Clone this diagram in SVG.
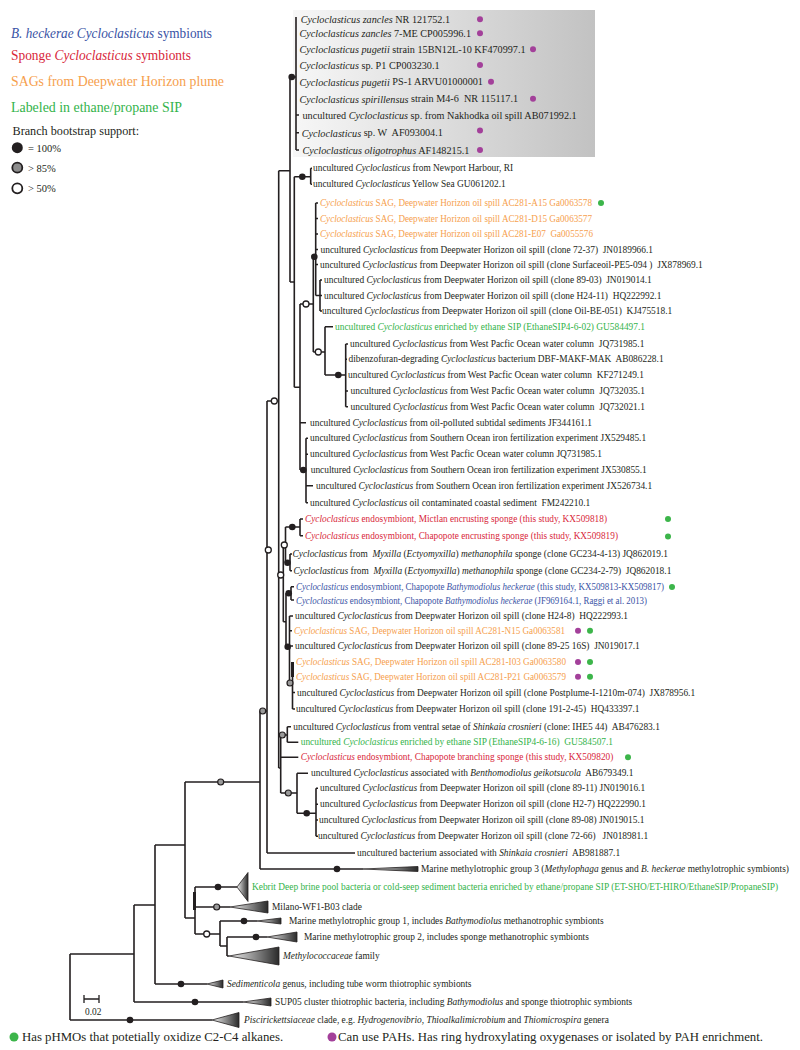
<svg xmlns="http://www.w3.org/2000/svg" width="800" height="1050" viewBox="0 0 800 1050">
<defs>
<linearGradient id="boxg" x1="0" y1="0" x2="1" y2="0"><stop offset="0" stop-color="#f7f7f7"/><stop offset="1" stop-color="#c2c2c2"/></linearGradient>
<linearGradient id="trig" x1="0" y1="0" x2="1" y2="0"><stop offset="0" stop-color="#f2f2f2"/><stop offset="1" stop-color="#2a2a2a"/></linearGradient>
<style>
.t{font-family:"Liberation Serif","Times New Roman",serif;font-size:9.4px;fill:#231f20;dominant-baseline:central;white-space:pre}
.tg{font-size:10.2px}
.i{font-style:italic}
.or{fill:#f6a04d}.bl{fill:#3953a5}.rd{fill:#d8263a}.gr{fill:#33b34a}
.br{stroke:#231f20;stroke-width:1.6;fill:none}
.nb{fill:#231f20}
.ng{fill:#9a9a9a;stroke:#231f20;stroke-width:1.2}
.nw{fill:#fff;stroke:#231f20;stroke-width:1.3}
.pd{fill:#a3409a}.gd{fill:#3cb54a}
.tri{fill:url(#trig);stroke:#231f20;stroke-width:0.8}
.lg{font-family:"Liberation Serif","Times New Roman",serif;font-size:13.6px;dominant-baseline:central}
</style>
</defs>
<rect width="800" height="1050" fill="#fff"/>

<g id="legend">
<text class="lg bl" x="11" y="33" textLength="201" lengthAdjust="spacingAndGlyphs"><tspan class="i">B. heckerae Cycloclasticus</tspan> symbionts</text>
<text class="lg rd" x="11" y="55" textLength="180" lengthAdjust="spacingAndGlyphs">Sponge <tspan class="i">Cycloclasticus</tspan> symbionts</text>
<text class="lg or" x="11" y="81" textLength="213" lengthAdjust="spacingAndGlyphs">SAGs from Deepwater Horizon plume</text>
<text class="lg gr" x="11" y="107" textLength="171" lengthAdjust="spacingAndGlyphs">Labeled in ethane/propane SIP</text>
<text class="t" x="12.5" y="131" style="font-size:12.2px">Branch bootstrap support:</text>
<circle cx="17.3" cy="147.7" r="5.5" fill="#231f20"/>
<circle cx="17.3" cy="167.7" r="5" fill="#8c8c8c" stroke="#231f20" stroke-width="1.8"/>
<circle cx="17.3" cy="188.3" r="5" fill="#fff" stroke="#231f20" stroke-width="1.8"/>
<text class="t" x="28" y="148" style="font-size:10.5px">= 100%</text>
<text class="t" x="28" y="168" style="font-size:10.5px">&gt; 85%</text>
<text class="t" x="28" y="188.5" style="font-size:10.5px">&gt; 50%</text>
</g>

<rect id="highlight-box" x="293" y="10" width="302" height="147" fill="url(#boxg)"/>

<g id="connectors" class="br">
<path d="M70,954V1020M70,954H134M70,1020H212M134,905V1002M134,1002H243M134,905H155M155,845V984M155,984H207M155,845H185M185,782V918M185,918H195M195,887V934M195,887H237M195,907H230M195,934H220M220,921V946M220,921H257M220,946H227M227,937V956M227,937H267M227,956H229M185,782H260M260,711V869M260,869H363M260,711H267M267,401V853M267,853H355M267,401H278.7M278.7,170.7V768M278.7,170.7H290M290,77V282M290,77H296M296,17V150M296,115H299M296,132.7H299M296,150H299M290,282H294.3M294.3,176.7V387.3M294.3,176.7H310.7M310.7,168.3V184.3M310.7,168.3H312M310.7,184.3H312M294.3,387.3H300M300,304V470M300,304H313.3M300,422.7H306M300,470H306M306,438.3V502.7M306,438.3H308M306,454.3H308M306,502.7H308M306,485.7H313M313.3,256.7V352M313.3,256.7H315.7M315.7,203V295.5M315.7,203H318M315.7,218.5H318M315.7,234H318M315.7,249.5H318M315.7,264.5H318M315.7,295.5H320M320,280V311M320,280H322M320,295.5H322M320,311H322M313.3,352H325M325,326.7V375M325,326.7H333M325,375H345.7M345.7,344V406.7M345.7,344H348M345.7,359.3H347M345.7,391H348M345.7,406.7H348"/>
<path d="M278.7,575H283.3M283.3,545V621.7M283.3,545H285.5M285.5,527V562.7M285.5,527H300M300,519V535.7M300,519H303M300,535.7H303M285.5,562.7H290M290,554V570.7M290,554H292M290,570.7H292M283.3,621.7H286M286,593.3V646.7M286,593.3H291M291,586.7V600M291,586.7H294M291,600H294M286,646.7H289.5M289.5,616V683M289.5,616H293M289.5,630.7H292M289.5,646H293M289.5,683H292.5M292.5,662V709M292.5,692.5H295M292.5,709H295"/>
<path d="M278.7,768H280.7M280.7,735V793M280.7,735H287.3M287.3,726.7V742.3M287.3,726.7H291M287.3,742.3H298.3M280.7,757.3H298.3M280.7,793H297M297,773.3V813.3M297,773.3H308M297,813.3H316M316,788.3V836.3M316,788.3H318M316,804.3H318M316,820H318M316,836.3H318"/>
<path d="M292.5,662V677" stroke-width="3"/>
<path d="M194.5,892V910" stroke-width="3"/>
<path d="M84,999H99M84,995V1003M99,995V1003" stroke-width="1.3"/>
</g>

<g id="support">
<circle class="nb" cx="291.7" cy="77" r="3.3"/>
<circle class="nb" cx="302.3" cy="176.7" r="3.3"/>
<circle class="nb" cx="314.3" cy="256.7" r="3.3"/>
<circle class="nb" cx="338.3" cy="375" r="3.3"/>
<circle class="nb" cx="303.3" cy="470" r="3.3"/>
<circle class="nb" cx="292.3" cy="527" r="3.3"/>
<circle class="nb" cx="287.5" cy="562.7" r="3.3"/>
<circle class="nb" cx="288.7" cy="593.3" r="3.3"/>
<circle class="nb" cx="287.7" cy="646.7" r="3.3"/>
<circle class="nb" cx="306.7" cy="813.3" r="3.3"/>
<circle class="nb" cx="337" cy="869" r="3.3"/>
<circle class="nb" cx="218" cy="887" r="3.3"/>
<circle class="nb" cx="244" cy="921" r="3.3"/>
<circle class="nb" cx="256" cy="937" r="3.3"/>
<circle class="nb" cx="181" cy="984" r="3.3"/>
<circle class="nb" cx="195" cy="1002" r="3.3"/>
<circle class="nb" cx="130" cy="1020" r="3.3"/>
<circle class="nw" cx="306" cy="304" r="3"/>
<circle class="nw" cx="318.3" cy="352" r="3"/>
<circle class="nw" cx="274.3" cy="401" r="3"/>
<circle class="nw" cx="268.3" cy="550" r="3"/>
<circle class="nw" cx="280.7" cy="575" r="3"/>
<circle class="nw" cx="284.3" cy="545" r="3"/>
<circle class="nw" cx="206.7" cy="934" r="3"/>
<circle class="ng" cx="290" cy="683" r="3"/>
<circle class="ng" cx="282.3" cy="735" r="3"/>
<circle class="ng" cx="288.3" cy="793" r="3"/>
<circle class="ng" cx="262.7" cy="711" r="3"/>
<circle class="ng" cx="220.7" cy="782" r="3"/>
<circle class="ng" cx="216.7" cy="907" r="3"/>
</g>

<g id="top-group">
<g id="n-zancles1"><text class="t tg" x="300.7" y="19.3"><tspan class="i">Cycloclasticus zancles</tspan> NR 121752.1</text><circle class="pd" cx="480" cy="19.3" r="3"/></g>
<g id="n-zancles2"><text class="t tg" x="299.5" y="33.3"><tspan class="i">Cycloclasticus zancles</tspan> 7-ME CP005996.1</text><circle class="pd" cx="480" cy="33.3" r="3"/></g>
<g id="n-pugetii1"><text class="t tg" x="299.5" y="49.3"><tspan class="i">Cycloclasticus pugetii</tspan> strain 15BN12L-10 KF470997.1</text><circle class="pd" cx="533" cy="49.3" r="3"/></g>
<g id="n-p1"><text class="t tg" x="299.5" y="65"><tspan class="i">Cycloclasticus</tspan> sp. P1 CP003230.1</text><circle class="pd" cx="480" cy="65" r="3"/></g>
<g id="n-pugetii2"><text class="t tg" x="299.5" y="81.7"><tspan class="i">Cycloclasticus pugetii</tspan> PS-1 ARVU01000001</text><circle class="pd" cx="491" cy="81.7" r="3"/></g>
<g id="n-spirillensus"><text class="t tg" x="299.5" y="98.7"><tspan class="i">Cycloclasticus spirillensus</tspan> strain M4-6  NR 115117.1</text><circle class="pd" cx="533" cy="98.7" r="3"/></g>
<g id="n-nakhodka"><text class="t tg" x="302.5" y="115">uncultured <tspan class="i">Cycloclasticus</tspan> sp. from Nakhodka oil spill AB071992.1</text></g>
<g id="n-w"><text class="t tg" x="301.7" y="132.7"><tspan class="i">Cycloclasticus</tspan> sp. W  AF093004.1</text><circle class="pd" cx="480" cy="130.5" r="3"/></g>
<g id="n-oligotrophus"><text class="t tg" x="302.5" y="150"><tspan class="i">Cycloclasticus oligotrophus</tspan> AF148215.1</text><circle class="pd" cx="480" cy="150" r="3"/></g>
</g>

<g id="leaves">
<g id="n-newport"><text class="t" x="313" y="168.3">uncultured <tspan class="i">Cycloclasticus</tspan> from Newport Harbour, RI</text></g>
<g id="n-yellowsea"><text class="t" x="313" y="184.3">uncultured <tspan class="i">Cycloclasticus</tspan> Yellow Sea GU061202.1</text></g>
<g id="n-a15"><text class="t or" x="320" y="203" textLength="272" lengthAdjust="spacingAndGlyphs"><tspan class="i">Cycloclasticus</tspan> SAG, Deepwater Horizon oil spill AC281-A15 Ga0063578</text><circle class="gd" cx="601" cy="203" r="3"/></g>
<g id="n-d15"><text class="t or" x="320" y="218.5" textLength="272" lengthAdjust="spacingAndGlyphs"><tspan class="i">Cycloclasticus</tspan> SAG, Deepwater Horizon oil spill AC281-D15 Ga0063577</text></g>
<g id="n-e07"><text class="t or" x="320" y="234" textLength="273" lengthAdjust="spacingAndGlyphs"><tspan class="i">Cycloclasticus</tspan> SAG, Deepwater Horizon oil spill AC281-E07  Ga0055576</text></g>
<g id="n-7237"><text class="t" x="320.5" y="249.5">uncultured <tspan class="i">Cycloclasticus</tspan> from Deepwater Horizon oil spill (clone 72-37)  JN0189966.1</text></g>
<g id="n-surf"><text class="t" x="320" y="264.5">uncultured <tspan class="i">Cycloclasticus</tspan> from Deepwater Horizon oil spill (clone Surfaceoil-PE5-094 )  JX878969.1</text></g>
<g id="n-8903"><text class="t" x="324" y="280">uncultured <tspan class="i">Cycloclasticus</tspan> from Deepwater Horizon oil spill (clone 89-03)  JN019014.1</text></g>
<g id="n-h2411"><text class="t" x="324" y="295.5">uncultured <tspan class="i">Cycloclasticus</tspan> from Deepwater Horizon oil spill (clone H24-11)  HQ222992.1</text></g>
<g id="n-oilbe"><text class="t" x="322" y="311">uncultured <tspan class="i">Cycloclasticus</tspan> from Deepwater Horizon oil spill (clone Oil-BE-051)  KJ475518.1</text></g>
<g id="n-eth1"><text class="t gr" x="335" y="326.7">uncultured <tspan class="i">Cycloclasticus</tspan> enriched by ethane SIP (EthaneSIP4-6-02) GU584497.1</text></g>
<g id="n-wp1"><text class="t" x="350" y="344">uncultured <tspan class="i">Cycloclasticus</tspan> from West Pacfic Ocean water column  JQ731985.1</text></g>
<g id="n-dbf"><text class="t" x="348.5" y="359.3">dibenzofuran-degrading <tspan class="i">Cycloclasticus</tspan> bacterium DBF-MAKF-MAK  AB086228.1</text></g>
<g id="n-wp2"><text class="t" x="348" y="374.5">uncultured <tspan class="i">Cycloclasticus</tspan> from West Pacfic Ocean water column  KF271249.1</text></g>
<g id="n-wp3"><text class="t" x="350.5" y="391">uncultured <tspan class="i">Cycloclasticus</tspan> from West Pacfic Ocean water column  JQ732035.1</text></g>
<g id="n-wp4"><text class="t" x="350.5" y="406.7">uncultured <tspan class="i">Cycloclasticus</tspan> from West Pacfic Ocean water column  JQ732021.1</text></g>
<g id="n-oilpol"><text class="t" x="310" y="422.7">uncultured <tspan class="i">Cycloclasticus</tspan> from oil-polluted subtidal sediments JF344161.1</text></g>
<g id="n-so1"><text class="t" x="310" y="438.3">uncultured <tspan class="i">Cycloclasticus</tspan> from Southern Ocean iron fertilization experiment JX529485.1</text></g>
<g id="n-wp5"><text class="t" x="310" y="454.3">uncultured <tspan class="i">Cycloclasticus</tspan> from West Pacfic Ocean water column JQ731985.1</text></g>
<g id="n-so2"><text class="t" x="310.7" y="470">uncultured <tspan class="i">Cycloclasticus</tspan> from Southern Ocean iron fertilization experiment JX530855.1</text></g>
<g id="n-so3"><text class="t" x="316" y="485.7">uncultured <tspan class="i">Cycloclasticus</tspan> from Southern Ocean iron fertilization experiment JX526734.1</text></g>
<g id="n-fm"><text class="t" x="310" y="502.7">uncultured <tspan class="i">Cycloclasticus</tspan> oil contaminated coastal sediment  FM242210.1</text></g>
<g id="n-mictlan"><text class="t rd" x="305" y="519" textLength="302" lengthAdjust="spacingAndGlyphs"><tspan class="i">Cycloclasticus</tspan> endosymbiont, Mictlan encrusting sponge (this study, KX509818)</text><circle class="gd" cx="668" cy="519" r="3"/></g>
<g id="n-chapenc"><text class="t rd" x="305" y="535.7" textLength="313" lengthAdjust="spacingAndGlyphs"><tspan class="i">Cycloclasticus</tspan> endosymbiont, Chapopote encrusting sponge (this study, KX509819)</text><circle class="gd" cx="668" cy="536.5" r="3"/></g>
<g id="n-myx1"><text class="t" x="292.5" y="554"><tspan class="i">Cycloclasticus</tspan> from  <tspan class="i">Myxilla</tspan> (<tspan class="i">Ectyomyxilla</tspan>) <tspan class="i">methanophila</tspan> sponge (clone GC234-4-13) JQ862019.1</text></g>
<g id="n-myx2"><text class="t" x="293.5" y="570.7"><tspan class="i">Cycloclasticus</tspan> from  <tspan class="i">Myxilla</tspan> (<tspan class="i">Ectyomyxilla</tspan>) <tspan class="i">methanophila</tspan> sponge (clone GC234-2-79)  JQ862018.1</text></g>
<g id="n-bathy1"><text class="t bl" x="296" y="586.7" textLength="368" lengthAdjust="spacingAndGlyphs"><tspan class="i">Cycloclasticus</tspan> endosymbiont, Chapopote <tspan class="i">Bathymodiolus heckerae</tspan> (this study, KX509813-KX509817)</text><circle class="gd" cx="672" cy="587" r="3"/></g>
<g id="n-bathy2"><text class="t bl" x="296" y="600.5" textLength="351" lengthAdjust="spacingAndGlyphs"><tspan class="i">Cycloclasticus</tspan> endosymbiont, Chapopote <tspan class="i">Bathymodiolus heckerae</tspan> (JF969164.1, Raggi et al. 2013)</text></g>
<g id="n-h248"><text class="t" x="295" y="616">uncultured <tspan class="i">Cycloclasticus</tspan> from Deepwater Horizon oil spill (clone H24-8)  HQ222993.1</text></g>
<g id="n-n15"><text class="t or" x="294" y="630.7" textLength="271" lengthAdjust="spacingAndGlyphs"><tspan class="i">Cycloclasticus</tspan> SAG, Deepwater Horizon oil spill AC281-N15 Ga0063581</text><circle class="pd" cx="578" cy="630.7" r="3"/><circle class="gd" cx="590" cy="630.7" r="3"/></g>
<g id="n-8925"><text class="t" x="295" y="646">uncultured <tspan class="i">Cycloclasticus</tspan> from Deepwater Horizon oil spill (clone 89-25 16S)  JN019017.1</text></g>
<g id="n-i03"><text class="t or" x="296" y="662" textLength="270" lengthAdjust="spacingAndGlyphs"><tspan class="i">Cycloclasticus</tspan> SAG, Deepwater Horizon oil spill AC281-I03 Ga0063580</text><circle class="pd" cx="578" cy="662" r="3"/><circle class="gd" cx="590" cy="662" r="3"/></g>
<g id="n-p21"><text class="t or" x="296" y="676.7" textLength="270" lengthAdjust="spacingAndGlyphs"><tspan class="i">Cycloclasticus</tspan> SAG, Deepwater Horizon oil spill AC281-P21 Ga0063579</text><circle class="pd" cx="578" cy="676.7" r="3"/><circle class="gd" cx="590" cy="676.7" r="3"/></g>
<g id="n-postplume"><text class="t" x="297" y="692.5">uncultured <tspan class="i">Cycloclasticus</tspan> from Deepwater Horizon oil spill (clone Postplume-I-1210m-074)  JX878956.1</text></g>
<g id="n-191"><text class="t" x="296" y="709">uncultured <tspan class="i">Cycloclasticus</tspan> from Deepwater Horizon oil spill (clone 191-2-45)  HQ433397.1</text></g>
<g id="n-shinkaia1"><text class="t" x="293.3" y="726.7">uncultured <tspan class="i">Cycloclasticus</tspan> from ventral setae of <tspan class="i">Shinkaia crosnieri</tspan> (clone: IHE5 44)  AB476283.1</text></g>
<g id="n-eth2"><text class="t gr" x="300.7" y="742.3">uncultured <tspan class="i">Cycloclasticus</tspan> enriched by ethane SIP (EthaneSIP4-6-16)  GU584507.1</text></g>
<g id="n-chapbr"><text class="t rd" x="300.7" y="757.3" textLength="312.6" lengthAdjust="spacingAndGlyphs"><tspan class="i">Cycloclasticus</tspan> endosymbiont, Chapopote branching sponge (this study, KX509820)</text><circle class="gd" cx="628" cy="757.3" r="3"/></g>
<g id="n-bentho"><text class="t" x="311" y="773.3">uncultured <tspan class="i">Cycloclasticus</tspan> associated with <tspan class="i">Benthomodiolus geikotsucola</tspan>  AB679349.1</text></g>
<g id="n-8911"><text class="t" x="320" y="788.3">uncultured <tspan class="i">Cycloclasticus</tspan> from Deepwater Horizon oil spill (clone 89-11) JN019016.1</text></g>
<g id="n-h27"><text class="t" x="320" y="804.3">uncultured <tspan class="i">Cycloclasticus</tspan> from Deepwater Horizon oil spill (clone H2-7) HQ222990.1</text></g>
<g id="n-8908"><text class="t" x="319" y="820">uncultured <tspan class="i">Cycloclasticus</tspan> from Deepwater Horizon oil spill (clone 89-08) JN019015.1</text></g>
<g id="n-7266"><text class="t" x="318" y="836.3">uncultured <tspan class="i">Cycloclasticus</tspan> from Deepwater Horizon oil spill (clone 72-66)   JN018981.1</text></g>
<g id="n-shinkaia2"><text class="t" x="357" y="853">uncultured bacterium associated with <tspan class="i">Shinkaia crosnieri</tspan>  AB981887.1</text></g>
</g>

<g id="clades">
<g id="c-group3"><polygon class="tri" points="363,869 418,866.5 418,871.5"/><text class="t" x="421" y="869">Marine methylotrophic group 3 (<tspan class="i">Methylophaga</tspan> genus and <tspan class="i">B. heckerae</tspan> methylotrophic symbionts)</text></g>
<g id="c-kebrit"><polygon class="tri" points="237,887 248,872.5 248,901.5"/><text class="t gr" x="252" y="887">Kebrit Deep brine pool bacteria or cold-seep sediment bacteria enriched by ethane/propane SIP (ET-SHO/ET-HIRO/EthaneSIP/PropaneSIP)</text></g>
<g id="c-milano"><polygon class="tri" points="230,907 268,901 268,913"/><text class="t" x="272" y="907">Milano-WF1-B03 clade</text></g>
<g id="c-group1"><polygon class="tri" points="257,921 281,918 281,924"/><text class="t" x="289" y="921">Marine methylotrophic group 1, includes <tspan class="i">Bathymodiolus</tspan> methanotrophic symbionts</text></g>
<g id="c-group2"><polygon class="tri" points="267,937 297,932 297,942"/><text class="t" x="304" y="937">Marine methylotrophic group 2, includes sponge methanotrophic symbionts</text></g>
<g id="c-methylococ"><polygon class="tri" points="229,956 279,947 279,965"/><text class="t" x="283" y="956"><tspan class="i">Methylococcaceae</tspan> family</text></g>
<g id="c-sedimenticola"><polygon class="tri" points="207,984 223,980 223,988"/><text class="t" x="227" y="984"><tspan class="i">Sedimenticola</tspan> genus, including tube worm thiotrophic symbionts</text></g>
<g id="c-sup05"><polygon class="tri" points="243,1002 271,998 271,1006"/><text class="t" x="275" y="1002">SUP05 cluster thiotrophic bacteria, including <tspan class="i">Bathymodiolus</tspan> and sponge thiotrophic symbionts</text></g>
<g id="c-pisci"><polygon class="tri" points="212,1020 239,1012.5 239,1027.5"/><text class="t" x="244" y="1020"><tspan class="i">Piscirickettsiaceae</tspan> clade, e.g. <tspan class="i">Hydrogenovibrio, Thioalkalimicrobium</tspan> and <tspan class="i">Thiomicrospira</tspan> genera</text></g>
</g>

<g id="scale"><text class="t" x="85" y="1012">0.02</text></g>

<g id="bottom-legend">
<circle class="gd" cx="14" cy="1037" r="4.5"/>
<text class="t" x="22" y="1037" style="font-size:12.8px">Has pHMOs that potetially oxidize C2-C4 alkanes.</text>
<circle class="pd" cx="332" cy="1037" r="4.5"/>
<text class="t" x="338" y="1037" style="font-size:12.8px" textLength="425" lengthAdjust="spacingAndGlyphs">Can use PAHs. Has ring hydroxylating oxygenases or isolated by PAH enrichment.</text>
</g>
</svg>
